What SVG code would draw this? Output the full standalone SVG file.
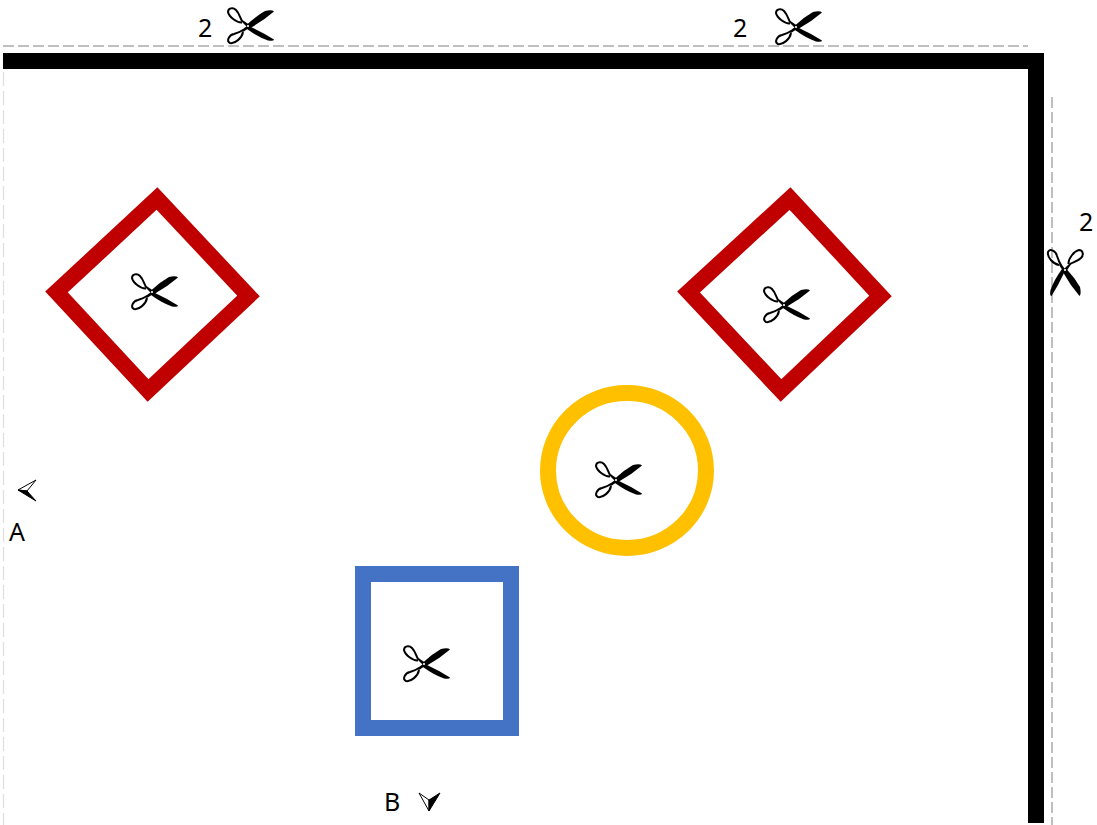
<svg xmlns="http://www.w3.org/2000/svg" width="1097" height="825" viewBox="0 0 1097 825">
  <style>
    text { font-family: "Noto Sans", "Open Sans", sans-serif; font-size: 25px; fill: #000; }
    .red { fill: none; stroke: #c00000; stroke-width: 16; stroke-linejoin: miter; }
    .ring { fill: none; stroke: #000; stroke-width: 2; }
    .dash { fill: none; stroke: #bfbfbf; stroke-width: 2; stroke-dasharray: 11 4; }
    .dash2 { fill: none; stroke: #e0e0e0; stroke-width: 1.3; stroke-dasharray: 14 5; }
  </style>
  <defs>
    <g id="scissors">
      <path class="ring" d="M-6 -3.5 C-11 -3 -19 -9 -20 -14 C-20 -18 -15 -19 -12 -16 C-9 -13 -8 -9 -6 -5"/>
      <path class="ring" d="M-5 6 C-6 12 -13 18 -18 17 C-22 15 -19 9 -14 8 C-11 7 -8 6 -5 4"/>
      <path d="M-7 -5 L-5.5 -6 L1 -1.5 L-1 1 Z" fill="#000"/>
      <path d="M-7 4.5 L-5 6 L1 2 L-1 0 Z" fill="#000"/>
      <path d="M-1 1.5 L3 1.5 Q15 -5 26 -14.5 Q24 -16.5 17 -15 Q8 -10 -1 -1.5 Z" fill="#000"/>
      <path d="M-1 0 L3 1 Q15 6.5 26 13.5 Q26 15.5 20 14.5 Q10 11 -1 3 Z" fill="#000"/>
      <circle r="1.1" fill="#fff"/>
    </g>
  </defs>

  <g id="dashes">
    <path class="dash" d="M3 46H1028"/>
    <path class="dash" d="M1052 97V825"/>
    <path class="dash2" d="M3.5 72V825"/>
  </g>

  <g id="wall">
    <path d="M3 61H1036V823" fill="none" stroke="#000" stroke-width="16"/>
  </g>

  <g id="diamond-left">
    <polygon class="red" points="157,198.5 248.5,296 148,390.5 56.5,292"/>
    <use href="#scissors" x="152" y="292"/>
  </g>
  <g id="diamond-right">
    <polygon class="red" points="790,198.5 880.5,296 781,390.5 688.5,292"/>
    <use href="#scissors" x="784" y="305"/>
  </g>
  <g id="circle">
    <ellipse cx="627" cy="470.5" rx="79" ry="77.5" fill="none" stroke="#ffc000" stroke-width="16"/>
    <use href="#scissors" x="616" y="480"/>
  </g>
  <g id="square">
    <rect x="363" y="574" width="148" height="154" fill="none" stroke="#4472c4" stroke-width="16"/>
    <use href="#scissors" x="424" y="664"/>
  </g>

  <g id="cut-top-1">
    <text x="198" y="37">2</text>
    <use href="#scissors" x="248" y="26"/>
  </g>
  <g id="cut-top-2">
    <text x="733" y="37">2</text>
    <use href="#scissors" x="796" y="27"/>
  </g>
  <g id="cut-right">
    <text x="1079" y="231">2</text>
    <use href="#scissors" transform="translate(1065 270) rotate(90)"/>
  </g>

  <g id="view-a">
    <path d="M18 490 L36 480 L27 491 Z" fill="#fff" stroke="#000" stroke-width="1"/>
    <path d="M18 490 L27 491 L36 501 Z" fill="#000" stroke="#000" stroke-width="1"/>
    <text x="9" y="541">A</text>
  </g>
  <g id="view-b">
    <path d="M419 793 L429 800 L429 811 Z" fill="#fff" stroke="#000" stroke-width="1"/>
    <path d="M440 793 L429 800 L429 811 Z" fill="#000" stroke="#000" stroke-width="1"/>
    <text x="384" y="811">B</text>
  </g>
</svg>
